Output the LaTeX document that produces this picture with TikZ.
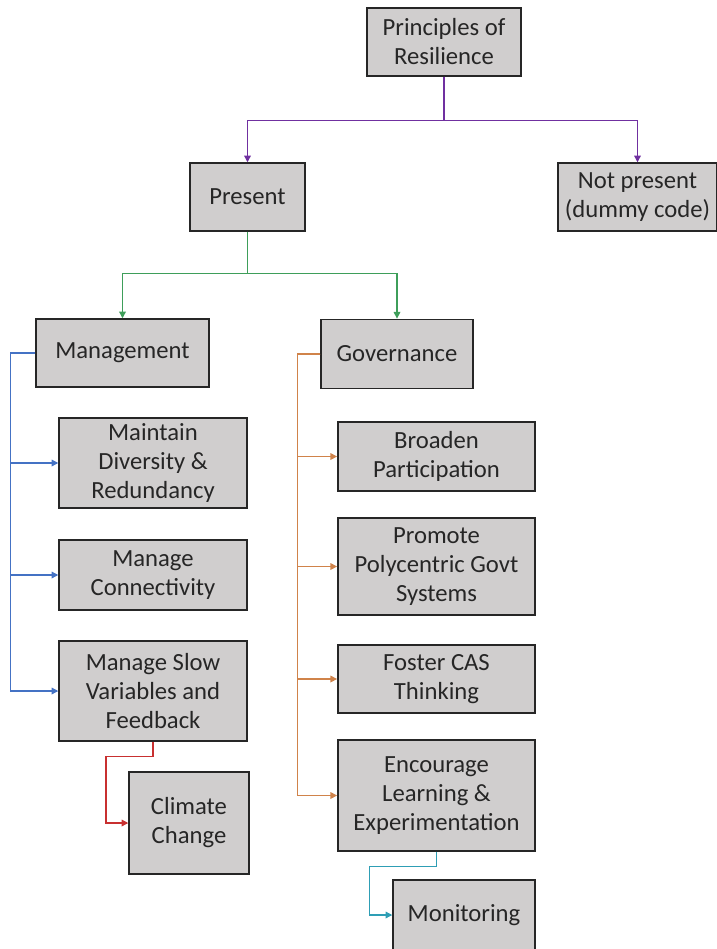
\documentclass[tikz,border=0pt]{standalone}
\usepackage{fontspec}
\setmainfont{Carlito}
\usepackage{tikz}
\usetikzlibrary{arrows.meta,positioning}
\definecolor{boxgray}{HTML}{D0CECE}
\definecolor{lnpurple}{HTML}{7030A0}
\definecolor{lngreen}{HTML}{3E9E5A}
\definecolor{lnblue}{HTML}{4472C4}
\definecolor{lnorange}{HTML}{D0834A}
\definecolor{lnred}{HTML}{C83030}
\definecolor{lnteal}{HTML}{2E9EB5}

\begin{document}
\begin{tikzpicture}[x=0.75pt, y=-0.75pt,
  main/.style = {draw=black!85, fill=boxgray, line width=1.1pt, align=center,
    inner sep=0pt, text=black!85, font=\fontsize{18.5}{21.75}\selectfont},
  link/.style = {line width=0.9pt, -{Triangle[length=5pt,width=5pt]}}]
  \useasboundingbox (0,0) rectangle (717,949);
  \node[main, minimum width=115.5pt, minimum height=51pt] (pr) at (444,42) {Principles of\\Resilience};
  \node[main, minimum width=86pt, minimum height=51pt] (p) at (247.5,197) {Present};
  \node[main, minimum width=119pt, minimum height=51pt] (np) at (637.5,197) {Not present\\(dummy code)};
  \node[main, minimum width=130pt, minimum height=51pt] (m) at (122.5,353) {Management};
  \node[main, minimum width=114pt, minimum height=52pt] (g) at (397,354) {Governance};
  \node[main, minimum width=141pt, minimum height=67.5pt] (m1) at (153,463) {Maintain\\Diversity \&\\Redundancy};
  \node[main, minimum width=141pt, minimum height=52.5pt] (m2) at (153,575) {Manage\\Connectivity};
  \node[main, minimum width=141pt, minimum height=75pt] (m3) at (153,691) {Manage Slow\\Variables and\\Feedback};
  \node[main, minimum width=90pt, minimum height=76.5pt] (m4) at (189,823) {Climate\\Change};
  \node[main, minimum width=148pt, minimum height=52pt] (g1) at (436.5,456.5) {Broaden\\Participation};
  \node[main, minimum width=148pt, minimum height=73pt] (g2) at (436.5,566.5) {Promote\\Polycentric Govt\\Systems};
  \node[main, minimum width=148pt, minimum height=51pt] (g3) at (436.5,679) {Foster CAS\\Thinking};
  \node[main, minimum width=148pt, minimum height=83pt] (g4) at (436.5,795.5) {Encourage\\Learning \&\\Experimentation};
  \node[main, minimum width=106.5pt, minimum height=52.5pt] (g5) at (464,915) {Monitoring};
  % top levels
  \draw[link, lnpurple] (pr.south) -- ++(0,44) -| (p);
  \draw[link, lnpurple] (pr.south) -- ++(0,44) -| (np);
  \draw[link, lngreen] (p.south) -- ++(0,42) -| (m);
  \draw[link, lngreen] (p.south) -- ++(0,42) -| (g);
  % management branch
  \draw[link, lnblue] (m.west) -- ++(-25,0) |- (m1);
  \draw[link, lnblue] (m.west) -- ++(-25,0) |- (m2);
  \draw[link, lnblue] (m.west) -- ++(-25,0) |- (m3);
  \draw[link, lnred] (m3.south) -- ++(0,15) -- ++(-47,0) |- (m4);
  % governance branch
  \draw[link, lnorange] (g.west) -- ++(-23,0) |- (g1);
  \draw[link, lnorange] (g.west) -- ++(-23,0) |- (g2);
  \draw[link, lnorange] (g.west) -- ++(-23,0) |- (g3);
  \draw[link, lnorange] (g.west) -- ++(-23,0) |- (g4);
  \draw[link, lnteal] (g4.south) -- ++(0,15) -- ++(-67,0) |- (g5);
\end{tikzpicture}
\end{document}
